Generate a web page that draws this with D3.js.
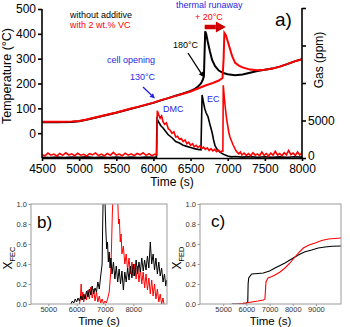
<!DOCTYPE html>
<html><head><meta charset="utf-8">
<script src="https://cdn.jsdelivr.net/npm/d3@7/dist/d3.min.js"></script>
<style>body{margin:0;background:#fff}svg{display:block;font-family:"Liberation Sans",Arial,sans-serif}</style>
</head><body><svg id="c" width="350" height="327"></svg>
<script>
// ---------- data ----------
const topTimeTicks = [4500,5000,5500,6000,6500,7000,7500,8000];
const tempTicks = [0,100,200,300,400,500];
const gasTicks = [0,5000,10000,15000,20000];
const gasLabelled = [0,5000];
const redTemp = [[4500,46],[4700,46],[4900,47],[5000,49],[5100,55],[5200,62],[5300,69],[5400,76],[5500,83],[5600,91],[5700,99],[5800,107],[5900,115],[6000,123],[6050,128],[6100,133],[6200,141],[6300,150],[6400,159],[6500,168],[6600,180],[6700,192],[6800,202],[6880,212],[6930,222],[6945,300],[6955,404],[6975,395],[7000,370],[7030,340],[7060,310],[7100,283],[7150,272],[7200,265],[7300,256],[7400,253],[7500,255],[7600,260],[7700,268],[7800,278],[7900,289],[8000,298]];
const blackTemp = [[4500,44],[4700,44],[4900,45],[5000,48],[5100,54],[5200,61],[5300,68],[5400,75],[5500,82],[5600,90],[5700,98],[5800,106],[5900,114],[6000,122],[6100,132],[6200,141],[6300,151],[6400,160],[6500,170],[6550,177],[6600,188],[6640,200],[6665,215],[6680,230],[6688,320],[6697,410],[6710,400],[6730,370],[6760,330],[6790,295],[6830,270],[6880,252],[6940,242],[7000,237],[7100,233],[7200,236],[7300,243],[7400,250],[7500,255],[7600,260],[7700,268],[7800,278],[7900,289],[8000,298]];
const redGas = [[4500,450],[4540,300],[4580,650],[4620,380],[4660,520],[4700,280],[4740,600],[4780,350],[4820,700],[4860,400],[4900,550],[4940,300],[4980,620],[5020,380],[5060,500],[5100,260],[5140,580],[5180,420],[5220,680],[5260,330],[5300,520],[5340,280],[5380,600],[5420,360],[5460,750],[5500,400],[5540,520],[5580,300],[5620,640],[5660,380],[5700,560],[5740,320],[5780,600],[5820,420],[5860,700],[5900,350],[5940,580],[5980,300],[6020,520],[6045,400],[6052,6300],[6070,5800],[6090,5300],[6110,5600],[6130,4800],[6150,4500],[6175,4700],[6200,3900],[6225,3700],[6250,3300],[6275,3500],[6300,2800],[6325,2900],[6350,2500],[6375,2600],[6400,2200],[6425,2400],[6450,1900],[6475,2100],[6500,1700],[6525,1900],[6550,1500],[6575,1700],[6600,1400],[6625,1600],[6650,1250],[6675,1450],[6700,1150],[6725,1350],[6750,1000],[6775,1250],[6800,950],[6825,1150],[6850,850],[6875,1050],[6900,800],[6925,950],[6935,900],[6940,9700],[6955,8000],[6970,6500],[6985,5200],[7000,4300],[7015,3400],[7030,2800],[7050,2300],[7070,1800],[7090,1400],[7110,1000],[7130,750],[7150,550],[7170,800],[7190,400],[7220,650],[7250,350],[7280,600],[7310,300],[7340,700],[7370,380],[7400,550],[7430,300],[7460,800],[7490,350],[7520,600],[7550,300],[7580,650],[7610,380],[7640,900],[7670,400],[7700,600],[7730,300],[7760,700],[7790,420],[7820,1000],[7850,450],[7880,650],[7910,350],[7940,800],[7970,400],[8000,700]];
const blackGas = [[4500,100],[4600,50],[4700,120],[4800,60],[4900,140],[5000,80],[5100,150],[5200,60],[5300,120],[5400,50],[5500,130],[5600,70],[5700,140],[5800,60],[5900,120],[6000,80],[6040,100],[6048,5200],[6070,4800],[6100,4300],[6130,4000],[6160,3600],[6200,3100],[6250,2700],[6300,2200],[6350,2000],[6400,1700],[6450,1550],[6500,1400],[6550,1250],[6600,1150],[6640,1100],[6655,8400],[6670,7600],[6690,6600],[6710,6000],[6735,5500],[6760,4500],[6790,3400],[6810,2400],[6830,1600],[6860,1100],[6900,750],[6950,450],[7000,280],[7050,150],[7100,200],[7200,120],[7300,180],[7400,100],[7500,160],[7600,90],[7700,150],[7800,100],[7900,160],[8000,120]];
// panel b (X_FEC)
const fecTicksX = [5000,6000,7000,8000];
const fracTicks = [0,0.2,0.4,0.6,0.8,1.0];
const blackFEC = [[5800,0],[5850,0.03],[5900,0.01],[5950,0.05],[6000,0.02],[6050,0.06],[6100,0.03],[6150,0.08],[6200,0.04],[6250,0.10],[6300,0.05],[6350,0.13],[6400,0.07],[6450,0.15],[6500,0.09],[6550,0.18],[6600,0.10],[6650,0.16],[6700,0.12],[6750,0.22],[6800,0.15],[6850,0.28],[6900,0.40],[6920,0.80],[6940,1.10],[6960,1.10],[6980,1.10],[7000,1.05],[7030,0.75],[7060,0.55],[7090,0.62],[7120,0.42],[7150,0.52],[7180,0.36],[7210,0.46],[7250,0.30],[7300,0.42],[7350,0.25],[7400,0.38],[7450,0.22],[7500,0.35],[7550,0.20],[7600,0.33],[7650,0.14],[7700,0.32],[7750,0.22],[7800,0.36],[7850,0.24],[7900,0.38],[7950,0.26],[8000,0.40],[8050,0.28],[8100,0.44],[8150,0.30],[8200,0.42],[8250,0.32],[8300,0.46],[8350,0.33],[8400,0.44],[8450,0.34],[8500,0.48],[8550,0.36],[8600,0.62],[8650,0.40],[8700,0.50],[8750,0.34],[8800,0.46],[8850,0.30],[8900,0.42],[8950,0.28],[9000,0.36],[9050,0.22],[9100,0.30],[9150,0.18],[9180,0.24]];
const redFEC = [[6100,0],[6130,0.05],[6160,0.20],[6190,0.04],[6220,0.12],[6250,0.02],[6300,0.10],[6350,0.04],[6400,0.14],[6450,0.05],[6500,0.17],[6550,0.06],[6600,0.15],[6650,0.03],[6700,0.12],[6750,0.02],[6800,0.08],[6850,0.01],[6900,0.05],[6950,0],[7000,0.03],[7050,0.01],[7100,0.06],[7150,0.12],[7200,0.30],[7230,0.55],[7260,0.90],[7290,1.10],[7400,1.10],[7450,1.05],[7480,0.80],[7510,0.85],[7540,0.62],[7570,0.70],[7600,0.50],[7650,0.58],[7700,0.40],[7750,0.50],[7800,0.34],[7850,0.46],[7900,0.30],[7950,0.42],[8000,0.28],[8050,0.40],[8100,0.25],[8150,0.38],[8200,0.22],[8250,0.35],[8300,0.20],[8350,0.32],[8400,0.16],[8450,0.30],[8500,0.14],[8550,0.26],[8600,0.10],[8650,0.24],[8700,0.08],[8750,0.20],[8800,0.05],[8850,0.15],[8900,0.02],[8950,0.10],[9000,0],[9050,0.06],[9080,0]];
// panel c (X_FED)
const fedTicksX = [5000,6000,7000,8000,9000];
const blackFED = [[5370,0],[5700,0],[6000,0.01],[6060,0.02],[6075,0.20],[6100,0.26],[6229,0.30],[6500,0.305],[6730,0.31],[7000,0.33],[7234,0.36],[7450,0.385],[7665,0.41],[7950,0.45],[8240,0.49],[8500,0.52],[8815,0.54],[9100,0.56],[9390,0.57],[9700,0.578],[10080,0.58]];
const redFED = [[5640,0],[6000,0.01],[6229,0.02],[6500,0.03],[6730,0.04],[6800,0.05],[6845,0.22],[6931,0.26],[7100,0.275],[7234,0.29],[7450,0.32],[7665,0.36],[7880,0.41],[8060,0.46],[8240,0.51],[8455,0.56],[8700,0.59],[8958,0.61],[9250,0.635],[9534,0.65],[9800,0.655],[10080,0.66]];

// ---------- drawing ----------
const svg = d3.select("#c");
const RED = "#ff0000", BLUE = "#1f1fe0";
const FONT = "Liberation Sans, Arial, sans-serif";
const xa = d3.scaleLinear().domain([4500,8000]).range([42,302]);
const yT = d3.scaleLinear().domain([-100,500]).range([158,9]);
const yG = d3.scaleLinear().domain([0,20000]).range([158,8]);

const defs = svg.append("defs");
defs.append("clipPath").attr("id","clipA").append("rect").attr("x",42).attr("y",0).attr("width",260).attr("height",158);

function line(x,y){ return d3.line().x(d=>x(d[0])).y(d=>y(d[1])); }

const gA = svg.append("g").attr("clip-path","url(#clipA)");
gA.append("path").attr("d",line(xa,yG)(blackGas)).attr("fill","none").attr("stroke","#000").attr("stroke-width",1.6);
gA.append("path").attr("d",line(xa,yG)(redGas)).attr("fill","none").attr("stroke",RED).attr("stroke-width",1.6);
gA.append("path").attr("d",line(xa,yT)(blackTemp)).attr("fill","none").attr("stroke","#000").attr("stroke-width",2);
gA.append("path").attr("d",line(xa,yT)(redTemp)).attr("fill","none").attr("stroke",RED).attr("stroke-width",2);

// axes top panel
const axL = svg.append("g").attr("transform","translate(42,0)")
  .call(d3.axisLeft(yT).tickValues(tempTicks).tickSize(4).tickSizeOuter(0).tickPadding(2).tickFormat(d3.format("d")));
const axR = svg.append("g").attr("transform","translate(302,0)")
  .call(d3.axisRight(yG).tickValues(gasTicks).tickSize(4).tickSizeOuter(0).tickPadding(2)
    .tickFormat(d=>gasLabelled.includes(d)?String(d):""));
const axB = svg.append("g").attr("transform","translate(0,158)")
  .call(d3.axisBottom(xa).tickValues(topTimeTicks).tickSize(3).tickSizeOuter(0).tickPadding(3).tickFormat(d3.format("d")));
[axL,axR,axB].forEach(a=>{
  a.selectAll("path,line").attr("stroke","#000").attr("stroke-width",1.6);
  a.selectAll("text").attr("font-size",12).attr("fill","#000").attr("font-family",FONT);
});
axL.select(".domain").attr("d","M0,158V9");
axR.select(".domain").attr("d","M0,158V8");
axR.selectAll(".tick text").filter(d=>d===0).attr("dy","0.12em");

svg.append("text").attr("transform","translate(11,76) rotate(-90)").attr("text-anchor","middle")
  .attr("font-size",12.5).text("Temperature (°C)");
svg.append("text").attr("transform","translate(323,60) rotate(-90)").attr("text-anchor","middle")
  .attr("font-size",12).text("Gas (ppm)");
svg.append("text").attr("x",172).attr("y",186).attr("text-anchor","middle").attr("font-size",12).text("Time (s)");
svg.append("text").attr("x",275).attr("y",26).attr("font-size",19).text("a)");

// annotations
const ann = (x,y,t,c)=>svg.append("text").attr("x",x).attr("y",y).attr("font-size",9).attr("fill",c).text(t);
ann(70,18,"without additive","#000");
ann(70,28,"with 2 wt.% VC",RED);
ann(107,63,"cell opening",BLUE);
ann(130,80,"130°C",BLUE);
ann(176,8,"thermal runaway",BLUE);
ann(195,20,"+ 20°C",RED);
ann(173,48,"180°C","#000");
ann(163,112,"DMC",BLUE);
ann(207,102,"EC",BLUE);

function arrow(x1,y1,x2,y2,color,w,hl,hw){
  const a = Math.atan2(y2-y1,x2-x1);
  const bx = x2 - hl*Math.cos(a), by = y2 - hl*Math.sin(a);
  svg.append("line").attr("x1",x1).attr("y1",y1).attr("x2",bx).attr("y2",by).attr("stroke",color).attr("stroke-width",w);
  const px = -Math.sin(a)*hw/2, py = Math.cos(a)*hw/2;
  svg.append("path").attr("d",`M${x2},${y2}L${bx+px},${by+py}L${bx-px},${by-py}Z`).attr("fill",color);
}
arrow(143,87,xa(6020),yT(140),BLUE,1.3,5,5);
arrow(188,53,xa(6675),yT(226),"#000",1.3,5,5);
arrow(xa(6690),27,xa(6975),27,"#d00000",4.5,10,11);

// ---------- panels b, c ----------
function panel(x0,x1,dom,xticks,ylab,sub,lab,labx,laby,series){
  const x = d3.scaleLinear().domain(dom).range([x0,x1]);
  const y = d3.scaleLinear().domain([0,1]).range([304,204]);
  const id = "clip"+lab[0];
  defs.append("clipPath").attr("id",id).append("rect").attr("x",x0).attr("y",204).attr("width",x1-x0).attr("height",100);
  const g = svg.append("g").attr("clip-path",`url(#${id})`);
  series.forEach(s=>g.append("path").attr("d",line(x,y)(s.d)).attr("fill","none").attr("stroke",s.c).attr("stroke-width",s.w));
  svg.append("rect").attr("x",x0).attr("y",204).attr("width",x1-x0).attr("height",100).attr("fill","none").attr("stroke","#9a9a9a").attr("stroke-width",1);
  const ax = svg.append("g").attr("transform",`translate(${x0},0)`).call(d3.axisLeft(y).tickValues(fracTicks).tickFormat(d3.format(".1f")).tickSize(2.5).tickSizeOuter(0).tickPadding(1.5));
  const bx = svg.append("g").attr("transform","translate(0,304)").call(d3.axisBottom(x).tickValues(xticks).tickFormat(d3.format("d")).tickSize(2).tickSizeOuter(0).tickPadding(1));
  [ax,bx].forEach(a=>{a.select(".domain").remove();a.selectAll("line").attr("stroke","#9a9a9a");
    a.selectAll("text").attr("font-size",7.5).attr("fill","#333").attr("font-family",FONT);});
  svg.append("text").attr("x",(x0+x1)/2).attr("y",325).attr("text-anchor","middle").attr("font-size",11.5).text("Time (s)");
  const t = svg.append("text").attr("transform",`translate(${x0-19},258) rotate(-90)`).attr("text-anchor","middle").attr("font-size",12);
  t.append("tspan").text(ylab);
  t.append("tspan").attr("font-size",7.5).attr("dy",3).text(sub);
  svg.append("text").attr("x",labx).attr("y",laby).attr("font-size",17).text(lab);
}
panel(31,167,[4390,9190],fecTicksX,"X","FEC","b)",37,228,[{d:redFEC,c:RED,w:1},{d:blackFEC,c:"#000",w:1}]);
panel(200,341,[4000,10080],fedTicksX,"X","FED","c)",211,227,[{d:blackFED,c:"#000",w:1.1},{d:redFED,c:RED,w:1.1}]);
</script></body></html>
